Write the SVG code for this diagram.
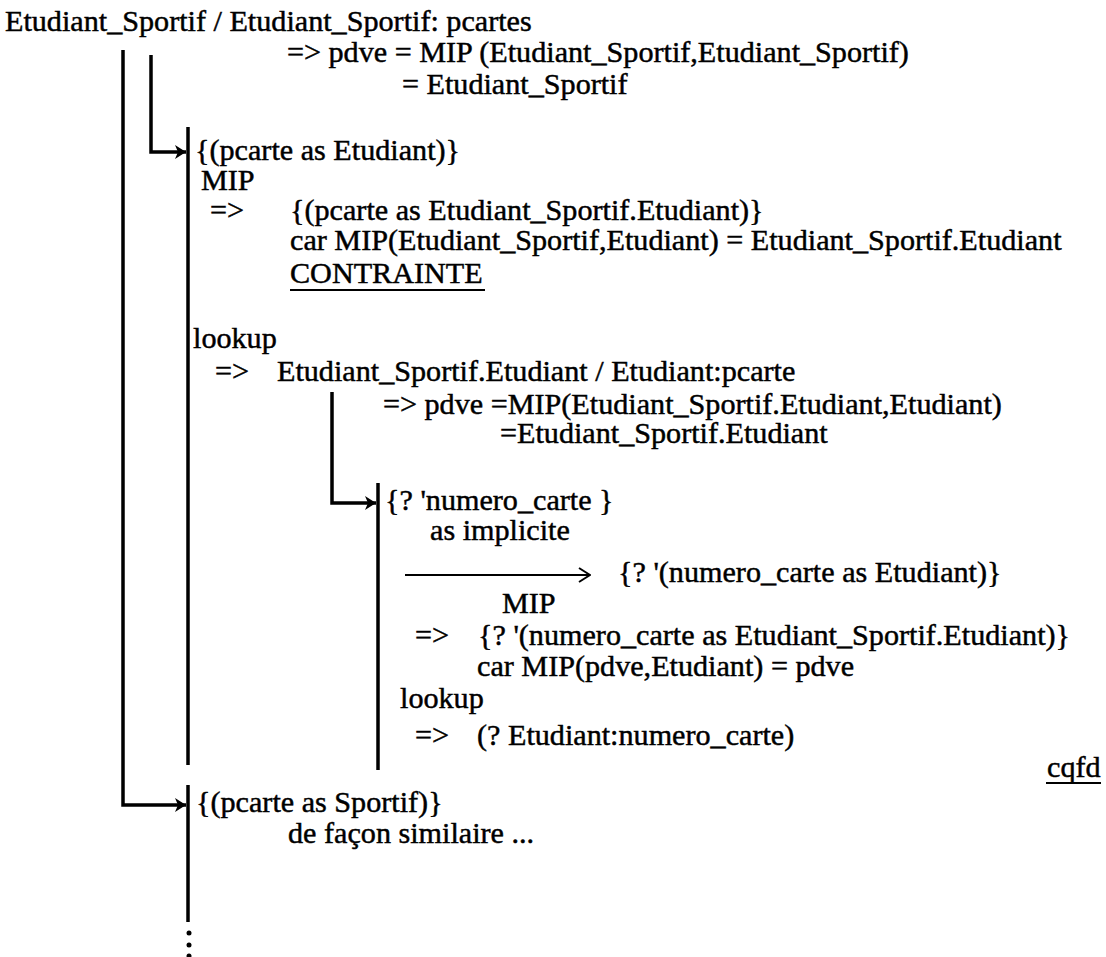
<svg xmlns="http://www.w3.org/2000/svg" width="1106" height="957" viewBox="0 0 1106 957">
  <style>
    text { font-family: "Liberation Serif", "Times New Roman", serif; font-size: 29px; fill: #000; stroke: #000; stroke-width: 0.45; }
    .ln { stroke: #000; stroke-width: 3.5; fill: none; }
    .thin { stroke: #000; stroke-width: 2; fill: none; }
    .ul { stroke: #000; stroke-width: 2; }
  </style>
  <defs>
    <marker id="tip" markerUnits="userSpaceOnUse" markerWidth="12" markerHeight="14" refX="11" refY="7" orient="auto">
      <path d="M0,0 L11,7 L0,14 L3,7 z" fill="#000"/>
    </marker>
    <marker id="open" markerUnits="userSpaceOnUse" markerWidth="14" markerHeight="16" refX="13" refY="8" orient="auto">
      <path d="M2,1 L13,8 L2,15" fill="none" stroke="#000" stroke-width="2"/>
    </marker>
  </defs>

  <!-- connectors: derivation tree branches -->
  <g id="connectors">
    <path class="ln" d="M123,50 V805 H186" marker-end="url(#tip)"/>
    <path class="ln" d="M151,55 V152 H186" marker-end="url(#tip)"/>
    <path class="ln" d="M188,127 V765"/>
    <path class="ln" d="M188,785 V922"/>
    <circle cx="189" cy="933" r="2.5"/>
    <circle cx="189" cy="945" r="2.5"/>
    <circle cx="189" cy="956" r="2.5"/>
    <path class="ln" d="M332,392 V503 H376" marker-end="url(#tip)"/>
    <path class="ln" d="M378,483 V770"/>
    <path class="thin" d="M405,575 H590" marker-end="url(#open)"/>
  </g>

  <g id="root">
    <text transform="translate(5 31) scale(1.04 1)">Etudiant_Sportif / Etudiant_Sportif: pcartes</text>
    <text transform="translate(287 62) scale(1.04 1)">=&gt; pdve = MIP (Etudiant_Sportif,Etudiant_Sportif)</text>
    <text transform="translate(402 94) scale(1.04 1)">= Etudiant_Sportif</text>
  </g>

  <g id="branch-etudiant">
    <text transform="translate(195 160) scale(1.04 1)">{(pcarte as Etudiant)}</text>
    <text transform="translate(201 190) scale(1.04 1)">MIP</text>
    <text transform="translate(210 220) scale(1.04 1)">=&gt;</text>
    <text transform="translate(290 220) scale(1.04 1)">{(pcarte as Etudiant_Sportif.Etudiant)}</text>
    <text transform="translate(290 250) scale(1.04 1)">car MIP(Etudiant_Sportif,Etudiant) = Etudiant_Sportif.Etudiant</text>
    <text transform="translate(290 283) scale(1.04 1)">CONTRAINTE</text>
    <line class="ul" x1="290" y1="290" x2="485" y2="290"/>
  </g>

  <g id="lookup-etudiant">
    <text transform="translate(193 348) scale(1.04 1)">lookup</text>
    <text transform="translate(215 381) scale(1.04 1)">=&gt;</text>
    <text transform="translate(277 381) scale(1.04 1)">Etudiant_Sportif.Etudiant / Etudiant:pcarte</text>
    <text transform="translate(383 414) scale(1.04 1)">=&gt; pdve =MIP(Etudiant_Sportif.Etudiant,Etudiant)</text>
    <text transform="translate(500 443) scale(1.04 1)">=Etudiant_Sportif.Etudiant</text>
  </g>

  <g id="branch-numero">
    <text transform="translate(385 510) scale(1.04 1)">{? 'numero_carte }</text>
    <text transform="translate(430 540) scale(1.04 1)">as implicite</text>
    <text transform="translate(618 582) scale(1.04 1)">{? '(numero_carte as Etudiant)}</text>
    <text transform="translate(502 613) scale(1.04 1)">MIP</text>
    <text transform="translate(415 645) scale(1.04 1)">=&gt;</text>
    <text transform="translate(478 645) scale(1.04 1)">{? '(numero_carte as Etudiant_Sportif.Etudiant)}</text>
    <text transform="translate(477 676) scale(1.04 1)">car MIP(pdve,Etudiant) = pdve</text>
    <text transform="translate(400 708) scale(1.04 1)">lookup</text>
    <text transform="translate(415 745) scale(1.04 1)">=&gt;</text>
    <text transform="translate(477 745) scale(1.04 1)">(? Etudiant:numero_carte)</text>
  </g>

  <g id="qed">
    <text transform="translate(1047 777) scale(1.04 1)">cqfd</text>
    <line class="ul" x1="1046" y1="783" x2="1101" y2="783"/>
  </g>

  <g id="branch-sportif">
    <text transform="translate(196 812) scale(1.04 1)">{(pcarte as Sportif)}</text>
    <text transform="translate(288 843) scale(1.04 1)">de façon similaire ...</text>
  </g>
</svg>
